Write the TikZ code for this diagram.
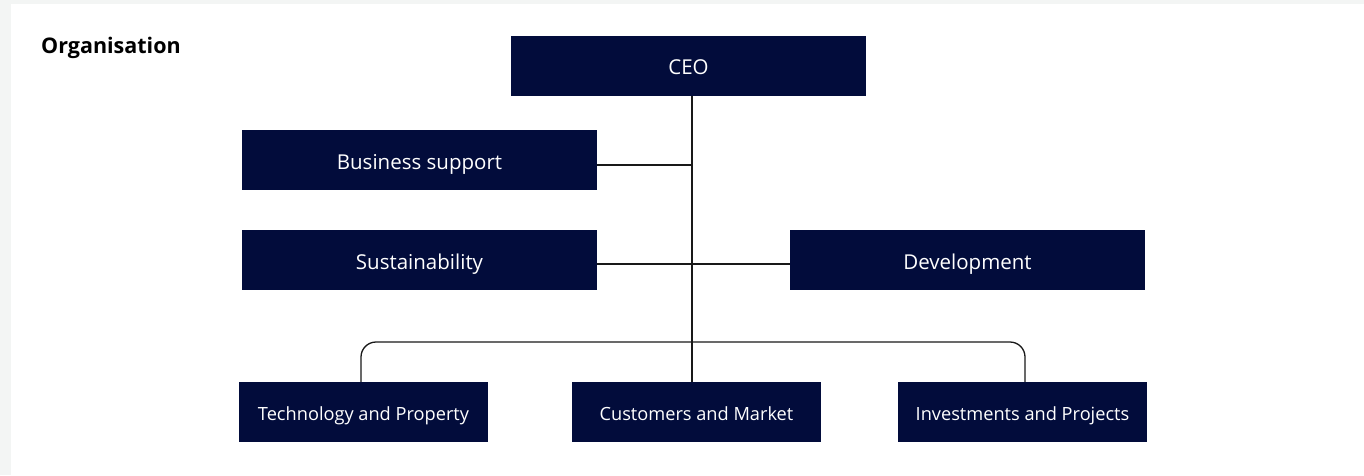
\documentclass[tikz,border=0pt]{standalone}
\usepackage{fontspec}
\setmainfont{Open Sans}
\definecolor{navy}{HTML}{020C3B}
\definecolor{pagegray}{HTML}{F3F5F4}
\begin{document}
\begin{tikzpicture}[x=1pt,y=-1pt,
  unit/.style={fill=navy,text=white,inner sep=0pt,text depth=0pt},
  bigunit/.style={unit,minimum width=355pt,minimum height=60pt,text height=18pt,font=\fontsize{20.5}{24}\selectfont},
  smallunit/.style={unit,minimum width=249pt,minimum height=60pt,text height=16.5pt,font=\fontsize{18.2}{22}\selectfont},
  link/.style={line width=1.3pt,draw=black!90}]
% background and panel
\fill[pagegray] (0,0) rectangle (1364,475);
\fill[white] (11,4) rectangle (1364,475);
\useasboundingbox (0,0) rectangle (1364,475);
\node[anchor=base west,inner sep=0pt,font=\bfseries\fontsize{21.5}{26}\selectfont] (title) at (41,53) {Organisation};
% boxes (centres)
\node[bigunit] (ceo) at (688.5,65.5) {CEO};
\node[bigunit] (bs) at (419.5,160) {Business support};
\node[bigunit] (sus) at (419.5,260) {Sustainability};
\node[bigunit] (dev) at (967.5,260) {Development};
\node[smallunit] (tp) at (363.5,412) {Technology and Property};
\node[smallunit] (cm) at (696.5,412) {Customers and Market};
\node[smallunit] (ip) at (1022.5,412) {Investments and Projects};
% connectors
\coordinate (spine) at (692,0);
\draw[link] (ceo.south -| spine) -- (cm.north -| spine);
\draw[link] (bs.east |- 0,165) -- (spine |- 0,165);
\draw[link] (sus.east |- 0,264) -- (dev.west |- 0,264);
\coordinate (lft) at (361,342);
\coordinate (rgt) at (1025,342);
\draw[link,rounded corners=15pt] (tp.north -| lft) -- (lft) -- (rgt) -- (ip.north -| rgt);
\end{tikzpicture}
\end{document}
